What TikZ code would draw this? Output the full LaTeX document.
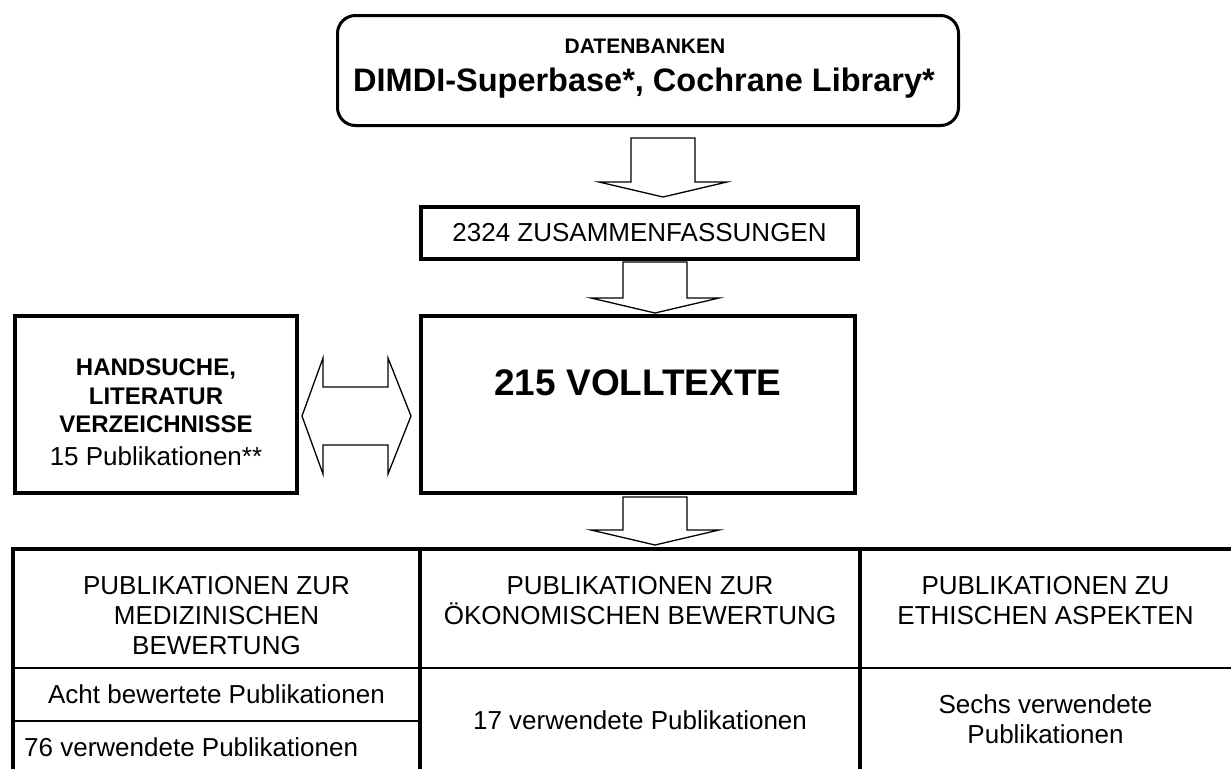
\documentclass[tikz,border=0pt]{standalone}
\usepackage{fontspec}
\setmainfont{Liberation Sans}
\usetikzlibrary{calc}
\newcommand\blockdown[2]{%
  \draw[blk] ($(#1)+(-32,0)$) -- ($(#2)+(-32,-15)$) -- ($(#2)+(-64,-15)$) -- (#2)
    -- ($(#2)+(64,-15)$) -- ($(#2)+(32,-15)$) -- ($(#1)+(32,0)$) -- cycle;}
\begin{document}
\begin{tikzpicture}[x=1pt,y=-1pt,
  box/.style={draw,line width=3.5pt,inner sep=0pt,minimum width=#1},
  blk/.style={draw,line width=1.3pt,line join=miter},
  thick rule/.style={line width=4pt},
  thin rule/.style={line width=1.5pt},
  txt/.style={inner sep=0pt,font=\fontsize{26}{30}\selectfont,align=center},
  btxt/.style={inner sep=0pt,font=\fontsize{24}{28.5}\bfseries\selectfont,align=center}]
\useasboundingbox (0,0) rectangle (1231,769);
% top rounded box
\node[draw,line width=3pt,rounded corners=18pt,minimum width=621,minimum height=110,inner sep=0pt] (top) at (648,70.5) {};
\node[inner sep=0pt,font=\fontsize{21}{25}\bfseries\selectfont] (db) at (645,46) {DATENBANKEN};
\node[inner sep=0pt,font=\fontsize{32.5}{37}\bfseries\selectfont] (dimdi) at (644,83) {DIMDI-Superbase*, Cochrane Library*};
% 2324 box
\node[box=437,minimum height=52] (zus) at (639.5,233) {};
\node[txt] (zust) at (639.5,233) {2324 ZUSAMMENFASSUNGEN};
% volltexte
\node[box=434,minimum height=177] (voll) at (638,404.5) {};
\node[inner sep=0pt,font=\fontsize{37}{40}\bfseries\selectfont] (vollt) at (638,383) {215 VOLLTEXTE};
% left box
\node[box=282,minimum height=177] (hand) at (156,404.5) {};
\node[btxt] (hand1) at (156,396) {HANDSUCHE,\\LITERATUR\\VERZEICHNISSE};
\node[txt] (hand2) at (156,456) {15 Publikationen**};
% arrows
\coordinate (a1s) at (663,138); \coordinate (a1t) at (663,197);
\blockdown{a1s}{a1t}
\coordinate (a2s) at (655,262); \coordinate (a2t) at (655,313);
\blockdown{a2s}{a2t}
\coordinate (a3s) at (655,497); \coordinate (a3t) at (655,545);
\blockdown{a3s}{a3t}
% double arrow
\coordinate (dl) at (302,416); \coordinate (dr) at (411,416);
\draw[blk] (dl) -- ($(dl)+(21,-58)$) -- ($(dl)+(21,-29)$) -- ($(dr)+(-23,-29)$) -- ($(dr)+(-23,-58)$)
  -- (dr) -- ($(dr)+(-23,58)$) -- ($(dr)+(-23,29)$) -- ($(dl)+(21,29)$) -- ($(dl)+(21,58)$) -- cycle;
% table
\coordinate (tl) at (13,549); \coordinate (tr) at (1231,549);
\draw[thick rule] (11,549) -- (tr);
\draw[thick rule] (tl) -- (13,769);
\draw[thick rule] (420,549) -- (420,769);
\draw[thick rule] (860,549) -- (860,769);
\draw[thin rule] (13,668) -- (1231,668);
\draw[thin rule] (13,721) -- (420,721);
\node[txt] (h1) at (216.5,616) {PUBLIKATIONEN ZUR\\MEDIZINISCHEN\\BEWERTUNG};
\node[txt] (h2) at (640,601) {PUBLIKATIONEN ZUR\\ÖKONOMISCHEN BEWERTUNG};
\node[txt] (h3) at (1045.5,601) {PUBLIKATIONEN ZU\\ETHISCHEN ASPEKTEN};
\node[txt] (c1a) at (216.5,694) {Acht bewertete Publikationen};
\node[txt,anchor=west] (c1b) at (24,747) {76 verwendete Publikationen};
\node[txt] (c2) at (640,720) {17 verwendete Publikationen};
\node[txt] (c3) at (1045.5,719) {Sechs verwendete\\Publikationen};
\end{tikzpicture}
\end{document}
